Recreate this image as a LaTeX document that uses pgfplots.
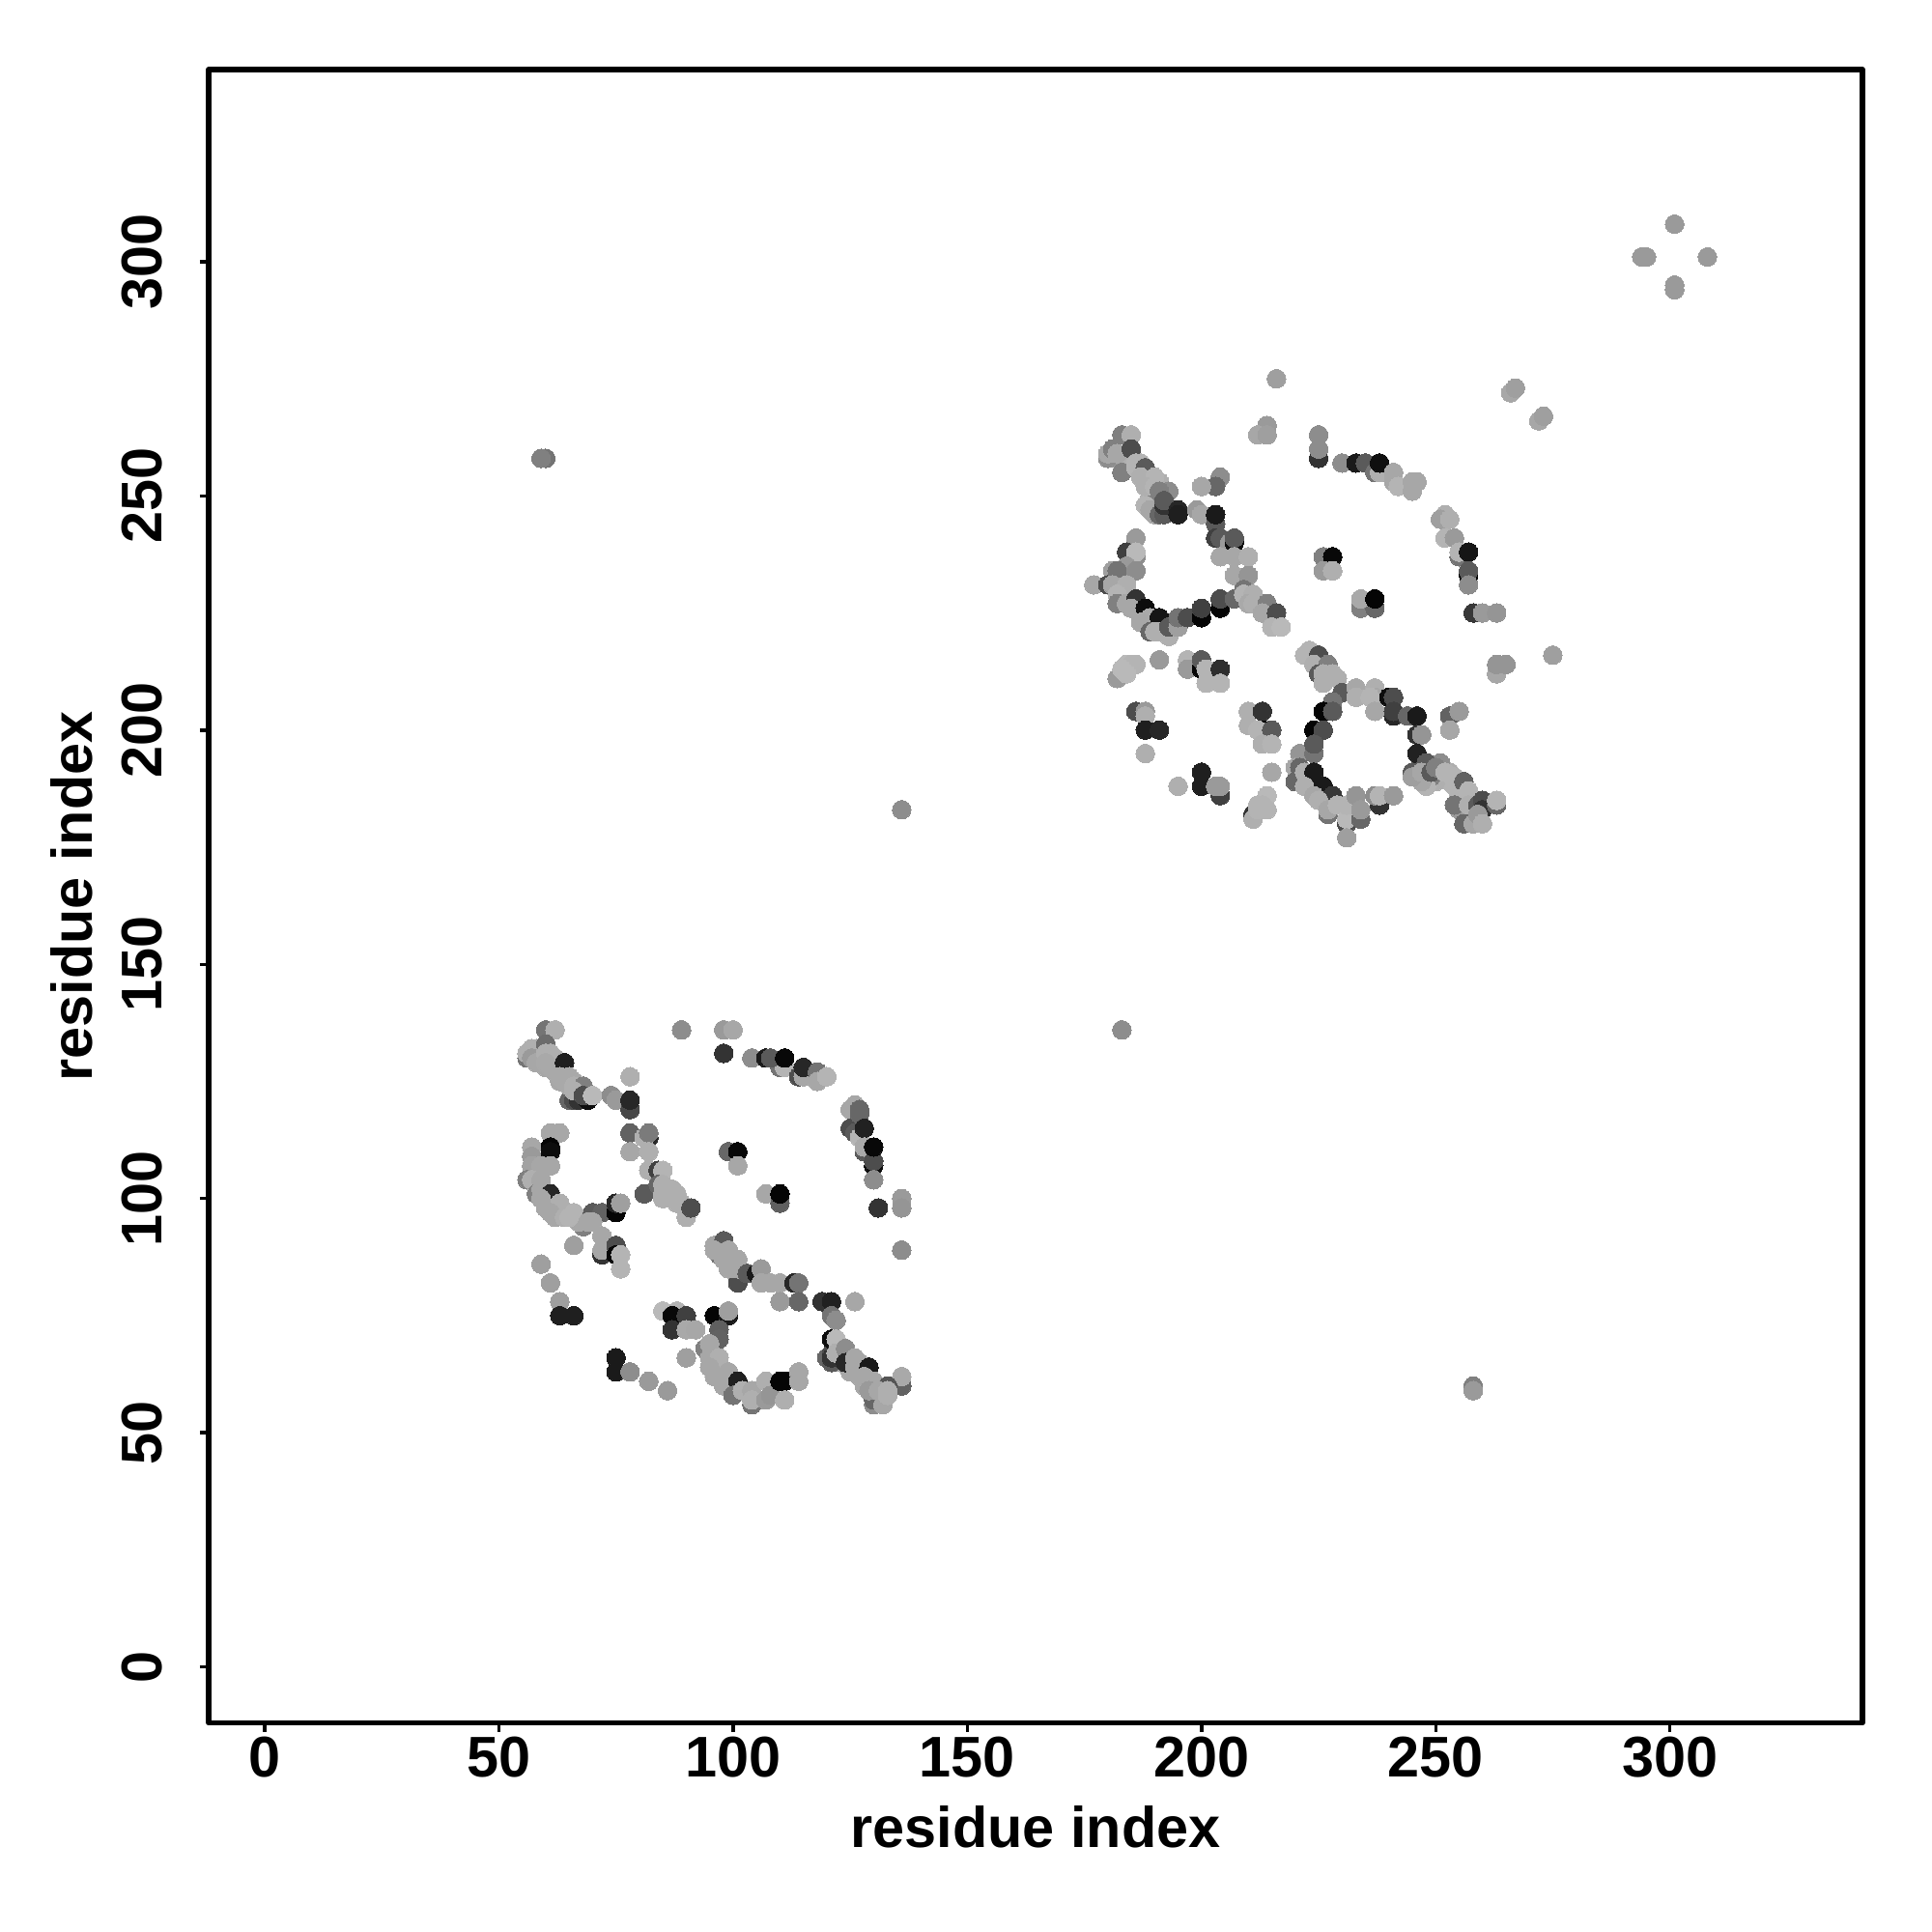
\documentclass[border=0pt]{standalone}
\usepackage{pgfplots}
\pgfplotsset{compat=1.18}
\usepackage{fontspec}
\setmainfont{Liberation Sans}
\begin{document}
\begin{tikzpicture}
\useasboundingbox (0,0) rectangle (20cm,20cm);
\begin{axis}[
  at={(2.16cm,2.163cm)}, anchor=south west,
  scale only axis, width=17.12cm, height=17.117cm,
  xmin=-11.96, xmax=341.1, ymin=-11.96, ymax=341,
  xtick={0,50,100,150,200,250,300}, ytick={0,50,100,150,200,250,300},
  tick align=outside, tick pos=left, major tick length=0.09cm,
  every tick/.style={black, line width=0.035cm},
  line width=0.053cm,
  axis line style={line width=0.053cm, line join=round},
  axis lines=box,
  /pgf/number format/assume math mode=true,
  /pgf/number format/1000 sep={},
  ticklabel style={font=\fontsize{16.9}{20}\selectfont\bfseries},
  xticklabel style={yshift=0.095cm},
  yticklabel style={rotate=90, anchor=south, yshift=0.245cm},
  xlabel={residue index}, ylabel={residue index},
  label style={font=\fontsize{16.9}{20}\selectfont\bfseries},
  xlabel style={at={(axis description cs:0.5,0)}, anchor=base, yshift=-1.29cm},
  ylabel style={at={(axis description cs:0,0.5)}, anchor=base, rotate=0, yshift=1.2cm},
  colormap={gg}{color(0cm)=(black); color(1cm)=(white)},
  point meta min=0, point meta max=1,
  clip=true,
]
\addplot[scatter, only marks, mark=*, mark size=2.75pt, line width=0pt,
  scatter src=explicit,
  scatter/use mapped color={draw=mapped color, fill=mapped color}]
table[x=x, y=y, meta=g] {
x y g
184 258 .68
183 257 .6
184 256 .68
185 258 .68
187 257 .7
189 253 .7
191 253 .68
189 250 .68
191 249 .6
190 249 .5
193 251 .55
188 248 .7
189 247 .65
258 184 .68
257 183 .6
256 184 .68
258 185 .68
257 187 .7
253 189 .7
253 191 .68
250 189 .68
249 191 .6
249 190 .5
251 193 .55
248 188 .7
247 189 .65
255 186 .7
254 188 .7
257 186 .7
258 182 .68
256 182 .6
255 183 .6
125 63 .65
127 62 .65
128 60 .65
129 61 .68
130 59 .68
131 57 .68
132 58 .7
127 63 .65
120 66 .4
121 67 .3
123 65 .65
63 125 .65
62 127 .65
60 128 .65
61 129 .68
59 130 .68
57 131 .68
58 131 .7
60 136 .45
62 136 .68
56 130 .45
56 131 .68
57 132 .68
58 132 .68
57 130 .6
60 133 .42
59 130 .6
58 129 .65
60 131 .68
61 131 .68
62 130 .68
60 129 .66
61 128 .66
64 129 .12
63 126 .66
65 126 .66
64 125 .66
66 125 .66
65 121 .4
66 121 .3
67 121 .2
69 121 .05
65 124 .66
66 124 .68
68 124 .5
66 123 .68
68 122 .3
70 122 .72
74 122 .55
75 121 .6
78 126 .68
78 119 .28
78 121 .15
78 114 .38
78 110 .65
82 113 .15
81 113 .68
82 114 .48
82 110 .68
82 106 .68
84 106 .25
85 106 .7
81 101 .35
84 103 .4
85 103 .68
86 102 .68
87 102 .68
85 101 .68
88 101 .68
85 100 .68
87 100 .68
88 99 .68
89 99 .68
90 96 .68
90 98 .68
91 98 .3
89 136 .55
98 136 .6
100 136 .65
98 131 .2
104 130 .55
107 130 .1
110 128 .45
111 128 .7
108 130 .35
111 130 .03
114 126 .3
115 126 .65
115 128 .15
118 127 .45
118 125 .65
120 126 .7
126 120 .65
125 119 .65
125 115 .3
127 119 .4
127 118 .4
126 114 .35
127 113 .7
128 115 .13
128 110 .35
128 111 .66
130 107 .05
130 108 .3
130 111 .03
130 104 .55
136 100 .6
136 98 .58
131 98 .2
136 89 .55
99 110 .4
101 110 .03
101 107 .65
107 101 .65
110 99 .37
110 101 .02
61 114 .65
63 114 .65
57 111 .65
61 111 .02
61 110 .05
57 109 .6
57 107 .63
59 107 .65
61 107 .65
56 104 .5
57 104 .68
59 104 .65
58 101 .5
59 102 .65
61 101 .15
59 100 .65
60 98 .65
63 99 .68
61 97 .65
62 96 .65
64 96 .68
68 94 .5
67 95 .65
66 97 .7
65 96 .7
70 97 .35
72 97 .38
75 97 .02
75 99 .15
76 99 .62
70 95 .65
69 95 .65
66 90 .62
72 88 .2
72 92 .65
72 89 .65
75 90 .3
75 88 .03
76 88 .7
76 85 .7
59 86 .62
61 82 .62
63 78 .62
63 75 .12
66 75 .12
96 90 .65
98 91 .35
97 88 .45
96 89 .65
99 89 .65
98 87 .65
101 87 .65
101 82 .3
99 85 .65
101 85 .65
103 84 .35
105 84 .1
106 85 .6
106 82 .65
108 82 .65
110 82 .65
113 82 .15
114 82 .45
110 78 .6
114 78 .4
119 78 .2
121 78 .13
126 78 .65
121 75 .45
122 74 .55
121 70 .05
122 70 .72
121 65 .35
121 66 .2
122 67 .68
124 68 .55
124 65 .15
126 66 .65
127 65 .65
126 64 .65
129 64 .1
128 62 .65
130 61 .65
130 56 .55
130 57 .4
132 56 .65
129 59 .6
136 60 .38
136 62 .66
133 60 .33
131 59 .65
133 58 .68
133 59 .68
85 76 .72
88 76 .7
87 75 .03
90 75 .25
87 72 .2
90 72 .66
92 72 .65
96 75 .02
99 75 .1
99 76 .62
97 72 .37
97 70 .38
94 68 .5
95 69 .65
95 66 .65
97 66 .68
90 66 .62
95 64 .65
96 62 .65
99 63 .65
98 60 .65
101 61 .12
100 58 .45
104 56 .45
102 59 .68
104 59 .65
104 57 .68
107 57 .6
107 61 .68
108 58 .58
110 61 .02
111 61 .02
114 63 .65
114 61 .65
111 57 .68
75 66 .1
75 63 .1
78 63 .55
82 61 .6
86 59 .6
60 258 .45
59 258 .5
136 183 .55
183 136 .55
258 60 .5
258 59 .6
301 308 .6
294 301 .6
295 301 .6
308 301 .6
301 295 .6
301 294 .6
183 263 .5
185 263 .68
180 258 .55
180 259 .65
181 260 .5
182 259 .65
183 255 .5
185 260 .3
186 257 .7
186 256 .7
188 256 .35
187 254 .68
190 254 .7
188 252 .68
190 252 .7
191 251 .5
190 246 .65
191 246 .4
192 246 .35
192 248 .2
192 249 .35
195 247 .15
195 246 .12
199 247 .6
200 246 .65
203 244 .35
203 246 .1
203 241 .25
204 241 .35
206 240 .6
207 240 .05
207 241 .35
204 254 .55
203 252 .4
200 252 .65
214 265 .6
212 263 .65
214 263 .62
225 258 .2
225 263 .55
225 260 .55
230 257 .55
186 241 .6
184 238 .25
186 237 .55
186 238 .72
184 235 .6
181 234 .62
182 234 .45
186 234 .55
177 231 .65
180 231 .3
181 231 .65
184 231 .68
182 229 .7
182 227 .5
184 227 .65
186 228 .2
185 226 .65
188 226 .05
189 224 .66
187 223 .65
191 224 .08
189 221 .4
190 221 .68
191 221 .68
193 220 .68
193 222 .35
195 222 .62
195 224 .45
197 224 .3
200 224 .02
200 226 .25
204 226 .02
204 228 .3
207 228 .4
204 237 .65
207 237 .65
210 237 .68
207 233 .65
210 233 .58
209 230 .45
209 229 .7
211 229 .68
210 227 .66
211 227 .68
214 227 .5
213 225 .65
216 225 .3
215 222 .7
217 222 .72
183 212 .1
182 211 .6
184 214 .72
186 214 .7
185 214 .7
183 213 .72
184 212 .72
191 215 .6
197 215 .7
197 213 .6
200 213 .02
200 215 .35
201 213 .7
204 213 .18
201 210 .7
204 210 .7
186 204 .3
188 204 .6
188 203 .68
188 200 .12
191 200 .15
188 195 .68
195 188 .68
200 191 .12
200 188 .12
204 186 .25
203 188 .6
204 188 .6
210 204 .68
213 204 .2
210 201 .68
213 200 .02
212 200 .7
215 200 .35
213 197 .68
215 197 .7
215 191 .65
211 182 .2
211 181 .68
212 183 .7
214 186 .72
214 183 .7
213 184 .7
212 184 .7
233 257 .1
235 257 .35
237 255 .45
238 255 .68
238 257 .06
241 255 .65
241 253 .65
242 252 .7
245 251 .65
246 253 .65
245 253 .65
252 246 .68
251 245 .62
253 245 .68
252 241 .7
254 241 .6
255 237 .45
255 238 .7
257 238 .08
257 233 .02
257 234 .35
257 231 .55
258 225 .22
260 225 .6
263 225 .58
226 237 .5
228 237 .03
226 234 .6
228 234 .68
234 226 .5
237 226 .4
234 228 .66
237 228 .02
263 212 .65
263 214 .58
265 214 .58
275 216 .62
272 266 .65
273 267 .62
266 272 .65
267 273 .62
216 275 .62
222 216 .7
223 217 .7
225 216 .3
224 214 .68
227 214 .5
225 212 .35
226 212 .68
228 212 .68
226 210 .68
229 211 .68
230 208 .35
228 206 .45
226 204 .02
228 204 .35
224 200 .02
226 200 .3
221 195 .58
224 195 .45
224 197 .35
220 192 .65
221 192 .4
220 189 .4
222 191 .68
224 191 .1
222 188 .68
226 188 .1
224 186 .65
228 186 .22
225 185 .68
227 182 .45
227 183 .65
229 184 .7
231 180 .3
231 181 .72
231 177 .62
231 184 .7
233 186 .58
234 181 .4
234 183 .6
238 184 .2
237 186 .55
238 186 .7
241 186 .6
233 209 .65
237 209 .68
233 207 .68
237 207 .65
236 207 .7
237 204 .65
240 207 .05
241 207 .3
241 203 .15
241 204 .25
244 203 .4
246 203 .1
246 199 .2
247 199 .58
246 195 .13
245 191 .35
245 190 .62
248 193 .35
247 191 .65
249 191 .35
250 192 .5
252 191 .7
254 190 .7
256 189 .38
254 184 .45
257 187 .7
256 180 .4
258 180 .65
257 184 .68
259 184 .35
260 185 .3
260 183 .2
263 184 .4
263 185 .7
259 182 .6
260 180 .68
253 203 .38
255 204 .6
253 200 .65
};
\end{axis}
\end{tikzpicture}
\end{document}
